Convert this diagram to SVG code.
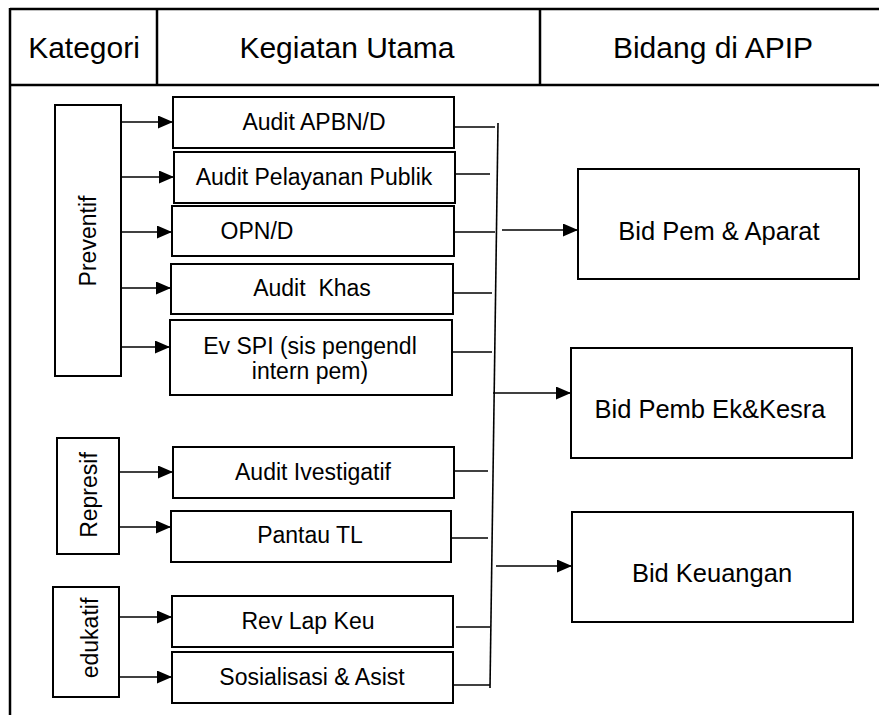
<svg xmlns="http://www.w3.org/2000/svg" width="879" height="715" viewBox="0 0 879 715">
<style>
text{font-family:"Liberation Sans",Arial,sans-serif;fill:#000}
.hd{font-size:30px;text-anchor:middle}
.act{font-size:23px;text-anchor:middle}
.cat{font-size:23px;text-anchor:middle}
.bid{font-size:25.5px;text-anchor:middle}
.box{fill:#fff;stroke:#000;stroke-width:2}
.tbl{stroke:#000;stroke-width:2.5;fill:none}
.ln{stroke:#000;stroke-width:1.6;fill:none}
.arr{stroke:#000;stroke-width:1.6;fill:none;marker-end:url(#ah)}
</style>
<defs>
<marker id="ah" markerUnits="userSpaceOnUse" markerWidth="15" markerHeight="13" refX="15" refY="6.5" orient="auto">
<path d="M0,0 L15,6.5 L0,13 z" fill="#000"/>
</marker>
</defs>
<rect width="879" height="715" fill="#fff"/>
<g id="table">
<line class="tbl" x1="10" y1="9" x2="879" y2="9"/>
<line class="tbl" x1="10" y1="85" x2="879" y2="85"/>
<line class="tbl" x1="10" y1="8" x2="10" y2="715"/>
<line class="tbl" x1="157" y1="9" x2="157" y2="85"/>
<line class="tbl" x1="540" y1="9" x2="540" y2="85"/>
<text class="hd" x="84" y="58">Kategori</text>
<text class="hd" x="347" y="58">Kegiatan Utama</text>
<text class="hd" x="713" y="58">Bidang di APIP</text>
</g>
<g id="connectors">
<line class="arr" x1="121" y1="122" x2="173" y2="122"/>
<line class="arr" x1="118" y1="177" x2="174" y2="177"/>
<line class="arr" x1="119" y1="232" x2="172" y2="232"/>
<line class="arr" x1="118" y1="288" x2="171" y2="288"/>
<line class="arr" x1="118" y1="347" x2="170" y2="347"/>
<line class="arr" x1="119" y1="472" x2="173" y2="472"/>
<line class="arr" x1="119" y1="527" x2="171" y2="527"/>
<line class="arr" x1="118" y1="617" x2="172" y2="617"/>
<line class="arr" x1="118" y1="677" x2="172" y2="677"/>
<line class="ln" x1="454" y1="127" x2="495" y2="127"/>
<line class="ln" x1="455" y1="174" x2="490" y2="174"/>
<line class="ln" x1="454" y1="232" x2="495" y2="232"/>
<line class="ln" x1="453" y1="293" x2="492" y2="293"/>
<line class="ln" x1="451" y1="352" x2="492" y2="352"/>
<line class="ln" x1="454" y1="471" x2="488" y2="471"/>
<line class="ln" x1="451" y1="538" x2="488" y2="538"/>
<line class="ln" x1="456" y1="627" x2="490" y2="627"/>
<line class="ln" x1="449" y1="685" x2="490" y2="685"/>
<line class="ln" x1="498" y1="123" x2="490" y2="688"/>
<line class="arr" x1="502" y1="230" x2="578" y2="230"/>
<line class="arr" x1="493" y1="393" x2="571" y2="393"/>
<line class="arr" x1="496" y1="566" x2="572" y2="566"/>
</g>
<g id="cat-preventif">
<rect class="box" x="55" y="105" width="66" height="271"/>
<text class="cat" transform="translate(96,241) rotate(-90)">Preventif</text>
</g>
<g id="cat-represif">
<rect class="box" x="57" y="438" width="62" height="116"/>
<text class="cat" transform="translate(97,495) rotate(-90)">Represif</text>
</g>
<g id="cat-edukatif">
<rect class="box" x="53" y="587" width="66" height="110"/>
<text class="cat" transform="translate(98,638) rotate(-90)">edukatif</text>
</g>
<g id="act-apbn">
<rect class="box" x="173" y="97" width="281" height="51"/>
<text class="act" x="314" y="130">Audit APBN/D</text>
</g>
<g id="act-pelayanan">
<rect class="box" x="174" y="152" width="281" height="51"/>
<text class="act" x="314" y="185">Audit Pelayanan Publik</text>
</g>
<g id="act-opn">
<rect class="box" x="172" y="206" width="282" height="50"/>
<text class="act" x="257" y="239">OPN/D</text>
</g>
<g id="act-khas">
<rect class="box" x="171" y="264" width="282" height="50"/>
<text class="act" x="312" y="296" xml:space="preserve">Audit  Khas</text>
</g>
<g id="act-evspi">
<rect class="box" x="170" y="320" width="282" height="75"/>
<text class="act" x="310" y="354">Ev SPI (sis pengendl</text>
<text class="act" x="310" y="379">intern pem)</text>
</g>
<g id="act-investigatif">
<rect class="box" x="173" y="447" width="281" height="51"/>
<text class="act" x="313" y="480">Audit Ivestigatif</text>
</g>
<g id="act-pantau">
<rect class="box" x="171" y="511" width="280" height="51"/>
<text class="act" x="310" y="543">Pantau TL</text>
</g>
<g id="act-revlap">
<rect class="box" x="172" y="596" width="281" height="51"/>
<text class="act" x="308" y="629">Rev Lap Keu</text>
</g>
<g id="act-sosialisasi">
<rect class="box" x="172" y="652" width="281" height="51"/>
<text class="act" x="312" y="685">Sosialisasi &amp; Asist</text>
</g>
<g id="bid-pem">
<rect class="box" x="578" y="169" width="281" height="110"/>
<text class="bid" x="719" y="240">Bid Pem &amp; Aparat</text>
</g>
<g id="bid-pemb">
<rect class="box" x="571" y="348" width="281" height="110"/>
<text class="bid" x="710" y="418">Bid Pemb Ek&amp;Kesra</text>
</g>
<g id="bid-keu">
<rect class="box" x="572" y="512" width="281" height="110"/>
<text class="bid" x="712" y="582">Bid Keuangan</text>
</g>
</svg>
